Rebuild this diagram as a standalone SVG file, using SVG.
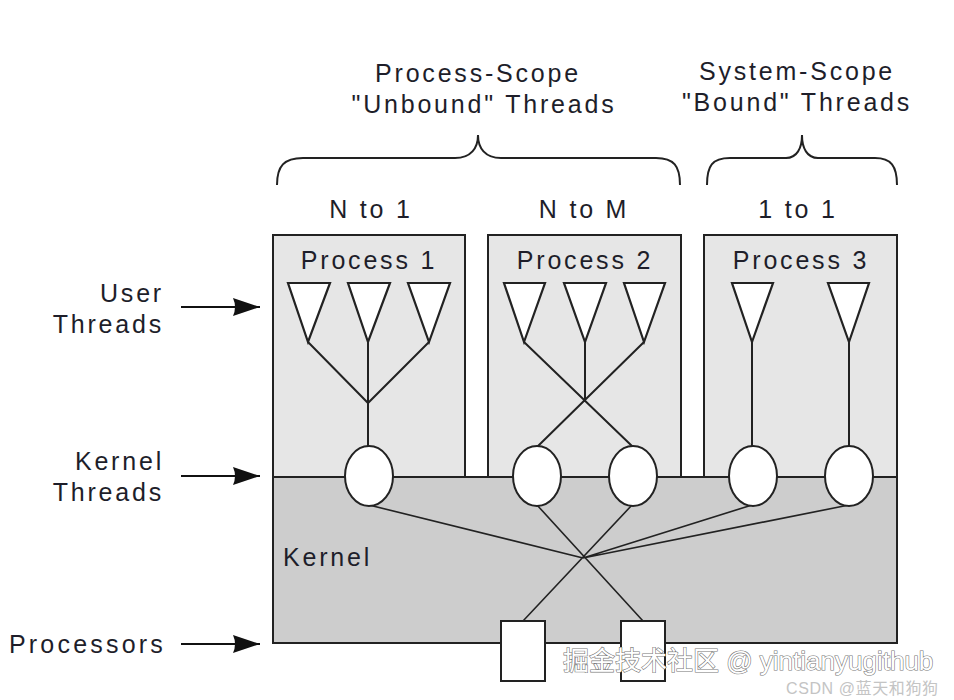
<svg xmlns="http://www.w3.org/2000/svg" width="954" height="700" viewBox="0 0 954 700">
<style>
text{font-family:"Liberation Sans",Arial,sans-serif;fill:#1e1e2a;font-size:25px;letter-spacing:2.8px}
.proc{fill:#e6e6e6;stroke:#222;stroke-width:2}
.kern{fill:#cdcdcd;stroke:#222;stroke-width:2}
.ln{stroke:#222;stroke-width:2;fill:none}
.thin{stroke:#222;stroke-width:1.6;fill:none}
.ut{fill:#fff;stroke:#222;stroke-width:2.2;stroke-linejoin:miter}
.kt{fill:#fff;stroke:#222;stroke-width:2}
.cpu{fill:#fff;stroke:#222;stroke-width:2}
.brace{fill:none;stroke:#222;stroke-width:2}
.arr{stroke:#111;stroke-width:2;fill:none}
</style>
<defs>
<marker id="ah" markerWidth="28" markerHeight="20" refX="27" refY="10" orient="auto" markerUnits="userSpaceOnUse">
<path d="M0,1 L27,10 L0,19 Q4,10 0,1 Z" fill="#111"/>
</marker>
</defs>
<rect width="954" height="700" fill="#fff"/>

<g id="scope-labels">
<text x="478" y="82" text-anchor="middle">Process-Scope</text>
<text x="484" y="113" text-anchor="middle">"Unbound" Threads</text>
<text x="797" y="80" text-anchor="middle">System-Scope</text>
<text x="797" y="111" text-anchor="middle">"Bound" Threads</text>
<path class="brace" d="M277,185 C277,166 284,158 303,158 L455,158 C471,158 478,148 478,135 C478,148 485,158 501,158 L656,158 C674,158 680,166 680,185"/>
<path class="brace" d="M707,185 C707,166 712,158 730,158 L786,158 C797,158 802,148 802,135 C802,148 807,158 818,158 L875,158 C891,158 897,166 897,185"/>
<text x="371" y="218" text-anchor="middle">N to 1</text>
<text x="584" y="218" text-anchor="middle">N to M</text>
<text x="798" y="218" text-anchor="middle">1 to 1</text>
</g>

<g id="kernel">
<rect class="kern" x="273" y="477" width="624" height="166"/>
<text x="283" y="566">Kernel</text>
</g>

<g id="process1">
<rect class="proc" x="273" y="235" width="192" height="242"/>
<text x="369" y="269" text-anchor="middle">Process 1</text>
</g>
<g id="process2">
<rect class="proc" x="488" y="235" width="193" height="242"/>
<text x="585" y="269" text-anchor="middle">Process 2</text>
</g>
<g id="process3">
<rect class="proc" x="704" y="235" width="193" height="242"/>
<text x="801" y="269" text-anchor="middle">Process 3</text>
</g>

<g id="connectors">
<path class="ln" d="M308,342 L368,403 L429,342 M368,342 L368,446"/>
<path class="ln" d="M524,342 L633,447 M644,342 L537,447 M585,342 L585,400"/>
<path class="ln" d="M752,342 L752,446 M849,342 L849,446"/>
<path class="thin" d="M369,505 L583,558 M752,505 L583,558 M849,505 L583,558 M537,505 L643,621 M632,505 L523,621"/>
<line class="arr" x1="181" y1="307" x2="260" y2="307" marker-end="url(#ah)"/>
<line class="arr" x1="181" y1="476" x2="260" y2="476" marker-end="url(#ah)"/>
<line class="arr" x1="181" y1="644" x2="260" y2="644" marker-end="url(#ah)"/>
</g>

<g id="user-threads">
<path class="ut" d="M288,283 L330,283 L308,342 Z"/>
<path class="ut" d="M348,283 L390,283 L368,342 Z"/>
<path class="ut" d="M408,283 L450,283 L429,342 Z"/>
<path class="ut" d="M504,283 L545,283 L524,342 Z"/>
<path class="ut" d="M564,283 L606,283 L585,342 Z"/>
<path class="ut" d="M624,283 L665,283 L644,342 Z"/>
<path class="ut" d="M732,283 L773,283 L752,342 Z"/>
<path class="ut" d="M828,283 L869,283 L849,342 Z"/>
</g>

<g id="kernel-threads">
<ellipse class="kt" cx="369" cy="476" rx="24" ry="30"/>
<ellipse class="kt" cx="537" cy="476" rx="24" ry="30"/>
<ellipse class="kt" cx="633" cy="476" rx="24" ry="30"/>
<ellipse class="kt" cx="753" cy="476" rx="24" ry="30"/>
<ellipse class="kt" cx="849" cy="476" rx="24" ry="30"/>
</g>

<g id="processors">
<rect class="cpu" x="501" y="621" width="44" height="60"/>
<rect class="cpu" x="621" y="621" width="44" height="60"/>
</g>

<g id="side-labels">
<text x="164" y="302" text-anchor="end">User</text>
<text x="164" y="333" text-anchor="end">Threads</text>
<text x="164" y="470" text-anchor="end">Kernel</text>
<text x="164" y="501" text-anchor="end">Threads</text>
<text x="166" y="653" text-anchor="end" style="letter-spacing:3.2px">Processors</text>
</g>

<g id="watermark">
<text x="563" y="670" style="font-family:'Liberation Sans','Noto Sans CJK SC',sans-serif;font-size:26px;letter-spacing:0;fill:#fff;stroke:#777;stroke-width:1.2;paint-order:stroke">掘金技术社区 @ yintianyugithub</text>
<text x="786" y="694" style="font-family:'Liberation Sans','Noto Sans CJK SC',sans-serif;font-size:16px;letter-spacing:0.6px;fill:#c4c4c4">CSDN @蓝天和狗狗</text>
</g>
</svg>
